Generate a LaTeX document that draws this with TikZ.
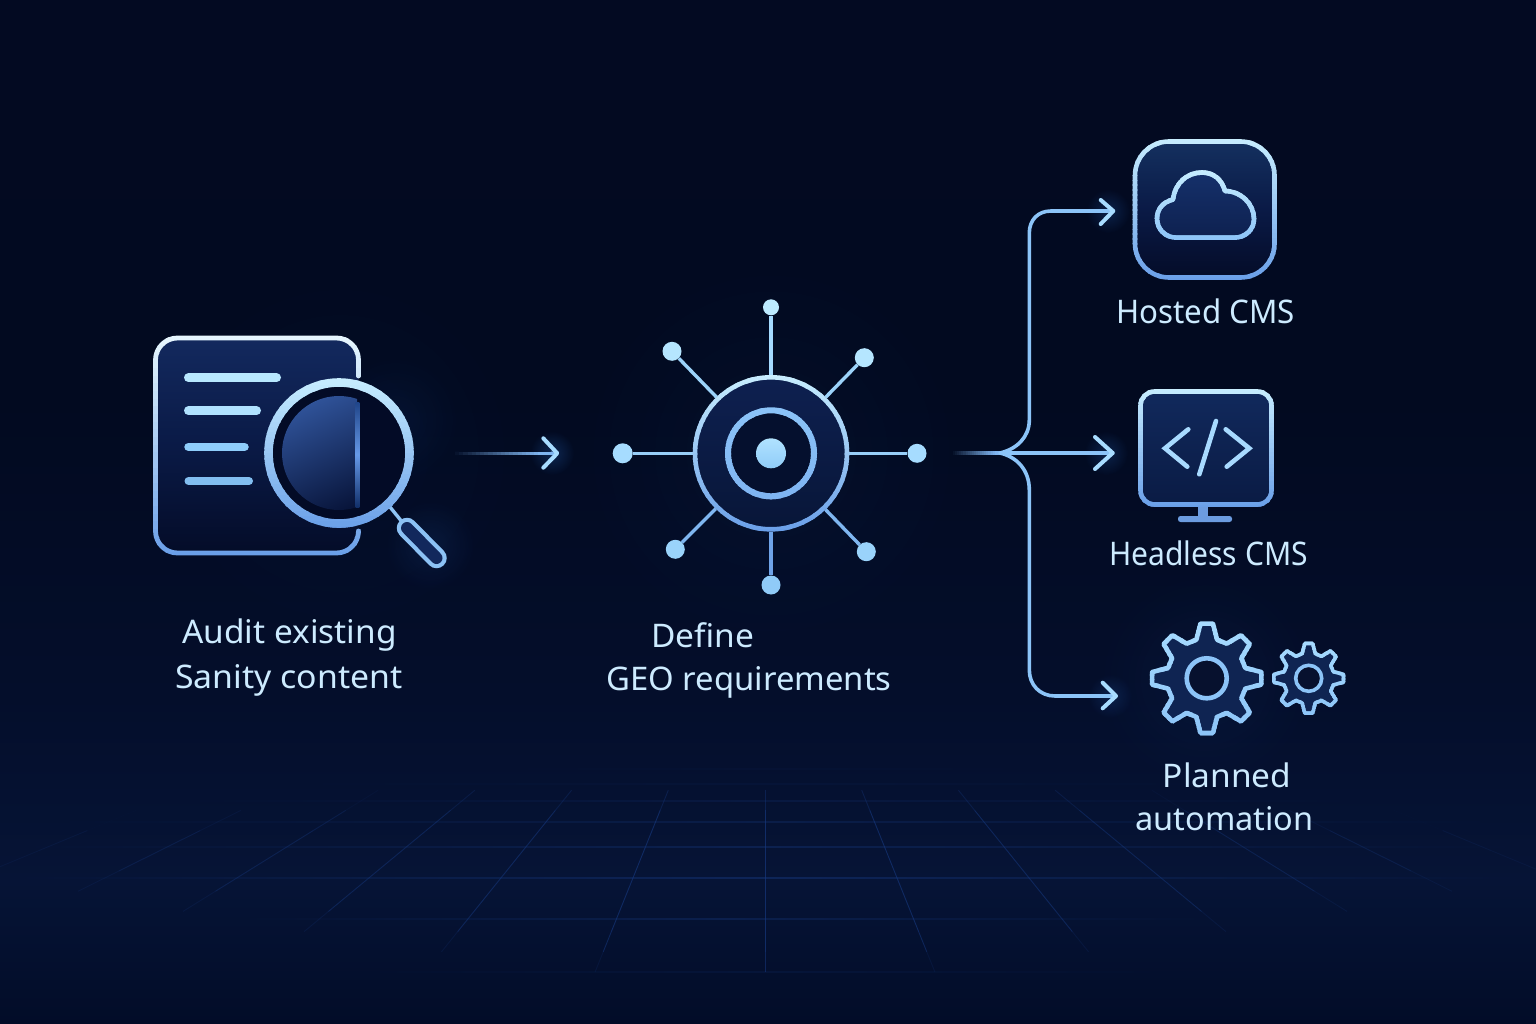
\documentclass[tikz,border=0pt]{standalone}
\usepackage{fontspec}
\usepackage{graphicx}
\setmainfont{Noto Sans}
\usetikzlibrary{fadings,calc}
\definecolor{bga}{HTML}{020C28}
\definecolor{bgb}{HTML}{061436}
\definecolor{bgc}{HTML}{040E2B}
\definecolor{bgd}{HTML}{020A20}
\definecolor{bge}{HTML}{030A22}
\definecolor{gridc}{HTML}{16387E}
\definecolor{glowc}{HTML}{2A6FD0}
\definecolor{hi}{HTML}{C8EEFF}
\definecolor{hib}{HTML}{A8DCFF}
\definecolor{mid}{HTML}{8CC4F8}
\definecolor{lo}{HTML}{6A9FE8}
\definecolor{panel}{HTML}{13295E}
\definecolor{paneld}{HTML}{040C28}
\definecolor{deep}{HTML}{030B26}
\definecolor{labelc}{HTML}{CDEBFF}
\newcommand{\hexc}[1]{\definecolor{c#1}{HTML}{#1}}
\hexc{0A1A46}\hexc{B8E8FF}\hexc{B0E2FF}\hexc{8ECDFB}\hexc{82BEF0}\hexc{2F5298}\hexc{071338}\hexc{1F4488}\hexc{12306A}\hexc{6699E8}\hexc{8EC4F5}\hexc{8CC2F5}\hexc{12285C}\hexc{7FB5F0}\hexc{BDEBFF}\hexc{B5E6FF}\hexc{A6DCFF}\hexc{9AD3FB}\hexc{90CBF8}\hexc{A5DBFF}\hexc{9CD3FA}\hexc{97CEF8}\hexc{7FB6F0}\hexc{6FA3E8}\hexc{0E2050}\hexc{081638}\hexc{05102E}\hexc{7FB4F2}\hexc{90CCF8}\hexc{14305F}\hexc{040C28}\hexc{15306A}\hexc{0E2150}\hexc{11295C}\hexc{0A1B44}\hexc{6C9CE0}\hexc{A8DAFF}\hexc{0F2452}\hexc{07112E}\hexc{8CC4F8}
\pgfdeclareverticalshading{bgshade}{100bp}{color(0bp)=(bga); color(25bp)=(bga); color(32bp)=(bgb); color(41bp)=(bgc); color(55.5bp)=(bgd); color(75bp)=(bge); color(100bp)=(bge)}
\tikzfading[name=softglow, inner color=transparent!0, outer color=transparent!100]
\newcommand{\gstroke}[6]{%
  \foreach \ii in {0,...,29}{%
    \pgfmathsetmacro\yy{#2+(#3-#2)*\ii/30}%
    \pgfmathsetmacro\yz{#2+(#3-#2)*(\ii+1)/30+0.6}%
    \pgfmathsetmacro\pc{100-100*\ii/29}%
    \begin{scope}
      \clip (-10,\yy) rectangle (1600,\yz);
      \draw[line width=#1, color={#4!\pc!#5}, line cap=round, line join=round] #6;
    \end{scope}
  }}
\newcommand{\softglow}[4]{\fill[glowc, opacity=#4, path fading=softglow] (#1,#2) circle (#3);}
\newcommand{\fadeline}[3]{% from, to, colour
  \foreach \ii in {0,...,23}{%
    \pgfmathsetmacro\ta{\ii/24}%
    \pgfmathsetmacro\tb{(\ii+1)/24}%
    \pgfmathsetmacro\op{min(1,\tb*1.15)}%
    \draw[line width=3.4, color=#3, opacity=\op] ($(#1)!\ta!(#2)$) -- ($(#1)!\tb!(#2)$);
  }}
\newcommand{\gearpath}[4]{% cx cy rOuter rRoot ; \a loop
  ($(#1,#2)+(-15:#4)$) \foreach \a in {0,45,...,315}{ -- ($(#1,#2)+(\a-15:#4)$) -- ($(#1,#2)+(\a-6.5:#3)$) -- ($(#1,#2)+(\a+6.5:#3)$) -- ($(#1,#2)+(\a+15:#4)$) } -- cycle}
\tikzset{
  labeltext/.style={text=labelc, font=\fontsize{32.5}{36}\selectfont, inner sep=0, anchor=base},
  satellite/.style={circle, inner sep=0, minimum size=#1, fill=hib},
  spoke/.style={line width=3.4, color=#1},
  flow/.style={line width=3.6, color=mid, line cap=round, line join=round},
  head/.style={line width=4, color=hib, line cap=round, line join=round},
  bar/.style={line width=#1, line cap=round}
}
\begin{document}
\begin{tikzpicture}[x=1pt,y=-1pt]
\useasboundingbox (0,0) rectangle (1536,1024);
\shade[shading=bgshade] (0,0) rectangle (1536,1024);

% floor grid
\foreach \yg/\xl/\xr/\og in {769/500/1030/.07,784/300/1240/.10,801/200/1340/.22,822/70/1480/.30,847/30/1510/.38,878/0/1536/.48,919/250/1200/.36,972/380/1150/.16}{
  \shade[left color=bgb, right color=bgb, middle color=gridc, opacity=\og] (\xl,\yg-.8) rectangle (\xr,\yg+.8);
}
\foreach \k in {-7,...,7}{
  \foreach \s in {0,...,9}{
    \pgfmathsetmacro\ya{770+20.2*\s}
    \pgfmathsetmacro\yb{770+20.2*(\s+1)}
    \pgfmathsetmacro\xa{765+\k*0.4026*(\ya-550)}
    \pgfmathsetmacro\xb{765+\k*0.4026*(\yb-550)}
    \pgfmathsetmacro\yend{1000-18*abs(\k)}
    \pgfmathsetmacro\ystart{770+12*max(0,abs(\k)-3)}
    \pgfmathsetmacro\fa{min(1,max(0,(\yend-\yb)/35))*min(1,max(0,(\ya-\ystart)/35))*max(0,1-abs(\k)/9)*0.7}
    \draw[color=gridc, line width=.9, opacity=\fa] (\xa,\ya) -- (\xb,\yb);
  }
}

% ambient glows
\softglow{771}{453}{200}{.05}
\softglow{340}{453}{200}{.03}
\softglow{1205}{680}{110}{.07}
\softglow{430}{545}{45}{.12}
\softglow{395}{420}{65}{.08}
\softglow{552}{453}{22}{.28}
\softglow{1108}{211}{22}{.24}
\softglow{1106}{453}{22}{.24}
\softglow{1110}{696}{22}{.20}

% ---------- document and lens
\fill[top color=panel, bottom color=paneld, middle color=c0A1A46, rounded corners=22] (155.5,338) rectangle (358.5,553);
\gstroke{4.8}{330}{560}{white!60!hi}{lo}{(358.5,376) -- (358.5,360) arc[start angle=0,end angle=-90,radius=22] -- (177.5,338) arc[start angle=-90,end angle=-180,radius=22] -- (155.5,531) arc[start angle=180,end angle=90,radius=22] -- (336.5,553) arc[start angle=90,end angle=0,radius=22] -- (358.5,533)}
\draw[bar=9, color=cB8E8FF] (188.5,377.7) -- (276.5,377.7);
\draw[bar=9, color=cB0E2FF] (188.5,410.7) -- (256.5,410.7);
\draw[bar=8.5, color=c8ECDFB] (188.5,447) -- (244.5,447);
\draw[bar=8, color=c82BEF0] (188.5,481) -- (249,481);

\coordinate (lens) at (339,453);
\fill[deep] (lens) circle (68);
\begin{scope}
  \clip (270,380) rectangle (357,520);
  \shade[top color=c2F5298, bottom color=c071338, shading angle=25] (lens) circle (57);
\end{scope}
\shade[top color=c1F4488, bottom color=c12306A, middle color=c6699E8] (355.7,402) rectangle (359.3,507);
% handle
\coordinate (pillA) at (407,528);
\coordinate (pillB) at (436.5,558);
\draw[line width=3.4, color=c8EC4F5] (390,507) -- (pillA);
\draw[line width=20.5, color=c8CC2F5, line cap=round] (pillA) -- (pillB);
\draw[line width=12, color=c12285C, line cap=round] (pillA) -- (pillB);
\gstroke{8.6}{375}{532}{hi}{lo}{(lens) circle (70.5)}

% arrow to hub
\coordinate (arrA0) at (455,453.3);
\coordinate (arrA1) at (555,453.3);
\coordinate (tipA) at (557.3,453.3);
\fadeline{arrA0}{arrA1}{c7FB5F0}
\draw[head] (543.3,438.3) -- (tipA) -- (543.3,467.7);

% ---------- hub
\node[circle, inner sep=0, minimum size=156] (hub) at (771,453.3) {};
\node[satellite=16, fill=cBDEBFF] (satN)  at (771,307.3) {};
\node[satellite=19, fill=cB5E6FF] (satNW) at (672,351.3) {};
\node[satellite=19, fill=cB5E6FF] (satNE) at (864.3,357.7) {};
\node[satellite=20, fill=cA6DCFF] (satW)  at (622.7,453.3) {};
\node[satellite=19, fill=cA6DCFF] (satE)  at (917,453.3) {};
\node[satellite=19, fill=c9AD3FB] (satSW) at (675.3,549.3) {};
\node[satellite=19, fill=c9AD3FB] (satSE) at (866.3,551.7) {};
\node[satellite=19, fill=c90CBF8] (satS)  at (771,585) {};
\draw[spoke=cA5DBFF] (satN) -- (hub);
\draw[spoke=c9CD3FA] (satNW) -- (hub);
\draw[spoke=c9CD3FA] (satNE) -- (hub);
\draw[spoke=c97CEF8] (satW) -- (hub);
\draw[spoke=c97CEF8] (satE) -- (hub);
\draw[spoke=c7FB6F0] (satSW) -- (hub);
\draw[spoke=c7FB6F0] (satSE) -- (hub);
\draw[line width=4.4, color=c6FA3E8] (hub) -- (satS);
\shade[top color=c0E2050, bottom color=c081638] (hub.center) circle (76);
\gstroke{4.6}{372}{535}{hi}{lo}{(hub.center) circle (76)}
\fill[color=c05102E] (hub.center) circle (43);
\gstroke{6}{405}{502}{mid}{c7FB4F2}{(hub.center) circle (43)}
\fill[top color=cB0E2FF, bottom color=c90CCF8] (hub.center) circle (15);

% ---------- branches
\coordinate (jn0) at (953,453);
\coordinate (jn1) at (1003,453);
\coordinate (tipB) at (1112.7,453);
\coordinate (tipC) at (1113.3,211);
\coordinate (tipD) at (1116,696);
\fadeline{jn0}{jn1}{c7FB5F0}
\draw[flow] (jn1) -- (tipB);
\draw[flow] (1000,453) .. controls (1017,449) and (1029.3,437) .. (1029.3,420) -- (1029.3,233) .. controls (1029.3,220) and (1038,211) .. (1051,211) -- (tipC);
\draw[flow] (1000,453) .. controls (1017,457) and (1029.3,470) .. (1029.3,490) -- (1029.3,670) .. controls (1029.3,685) and (1040,696) .. (1055,696) -- (tipD);
\draw[head] (1095,437) -- (tipB) -- (1095,469);
\draw[head] (1100.7,200) -- (tipC) -- (1100.7,224);
\draw[head] (1102.7,682.7) -- (tipD) -- (1102.7,708.3);

% ---------- cloud box
\fill[top color=c14305F, bottom color=c040C28, middle color=c0A1A46, rounded corners=34] (1135,141.5) rectangle (1274.5,277.5);
\gstroke{4.6}{136}{283}{hi}{lo}{[rounded corners=34] (1135,141.5) rectangle (1274.5,277.5)}
\fill[top color=c15306A, bottom color=c0E2150] (1177,237.7) .. controls (1165,237.7) and (1157,229) .. (1157,218.5) .. controls (1157,209) and (1163,202) .. (1173,199.5) .. controls (1175,183) and (1187,172.5) .. (1202,172.5) .. controls (1214,172.5) and (1222,180) .. (1225,191) .. controls (1241,191) and (1254,204) .. (1254,219) .. controls (1254,230) and (1245,237.7) .. (1234,237.7) -- cycle;
\gstroke{4.6}{168}{243}{hi}{mid}{(1177,237.7) .. controls (1165,237.7) and (1157,229) .. (1157,218.5) .. controls (1157,209) and (1163,202) .. (1173,199.5) .. controls (1175,183) and (1187,172.5) .. (1202,172.5) .. controls (1214,172.5) and (1222,180) .. (1225,191) .. controls (1241,191) and (1254,204) .. (1254,219) .. controls (1254,230) and (1245,237.7) .. (1234,237.7) -- cycle}

% ---------- monitor
\fill[top color=c11295C, bottom color=c0A1B44, rounded corners=14] (1140.5,391.5) rectangle (1271.5,504.5);
\gstroke{4.6}{386}{510}{hi}{lo}{[rounded corners=14] (1140.5,391.5) rectangle (1271.5,504.5)}
\fill[color=c6C9CE0] (1198.3,507) rectangle (1207.7,518);
\fill[color=c6C9CE0, rounded corners=2.5] (1178,516) rectangle (1232,522);
\draw[line width=4.6, color=cA8DAFF, line cap=round, line join=miter] (1188.3,429.3) -- (1165,448.3) -- (1187.3,466.7);
\draw[line width=4.6, color=cA8DAFF, line cap=round] (1216,421) -- (1199.3,474.3);
\draw[line width=4.6, color=cA8DAFF, line cap=round, line join=miter] (1225.7,429.3) -- (1249.3,448.3) -- (1226.7,466.7);

% ---------- gears
\fill[color=c0F2452] \gearpath{1206.7}{678.3}{55}{40};
\gstroke{4.6}{618}{740}{hib}{mid}{\gearpath{1206.7}{678.3}{55}{40}}
\fill[color=c07112E] (1206.7,678.3) circle (20);
\draw[line width=4.6, color=c8CC4F8] (1206.7,678.3) circle (20);
\fill[color=c0F2452] \gearpath{1308.7}{678.3}{35}{25.5};
\gstroke{3.6}{638}{719}{hib}{mid}{\gearpath{1308.7}{678.3}{35}{25.5}}
\fill[color=c07112E] (1308.7,678.3) circle (13);
\draw[line width=3.6, color=c8CC4F8] (1308.7,678.3) circle (13);

% ---------- labels
\node[labeltext] (audit1) at (289.5,643.5) {\scalebox{1.027}[1]{Audit existing}};
\node[labeltext] (audit2) at (289,688.5) {\scalebox{1.04}[1]{Sanity content}};
\node[labeltext] (geo1) at (703,647.5) {\scalebox{1.03}[1]{Define}};
\node[labeltext] (geo2) at (749,690) {\scalebox{1.01}[1]{GEO requirements}};
\node[labeltext] (hosted) at (1205.5,323) {\scalebox{0.963}[1]{Hosted CMS}};
\node[labeltext] (headless) at (1208.5,565) {\scalebox{0.924}[1]{Headless CMS}};
\node[labeltext] (auto1) at (1227,787) {\scalebox{1.03}[1]{Planned}};
\node[labeltext] (auto2) at (1224.5,830) {\scalebox{1.0}[1]{automation}};
\end{tikzpicture}
\end{document}
